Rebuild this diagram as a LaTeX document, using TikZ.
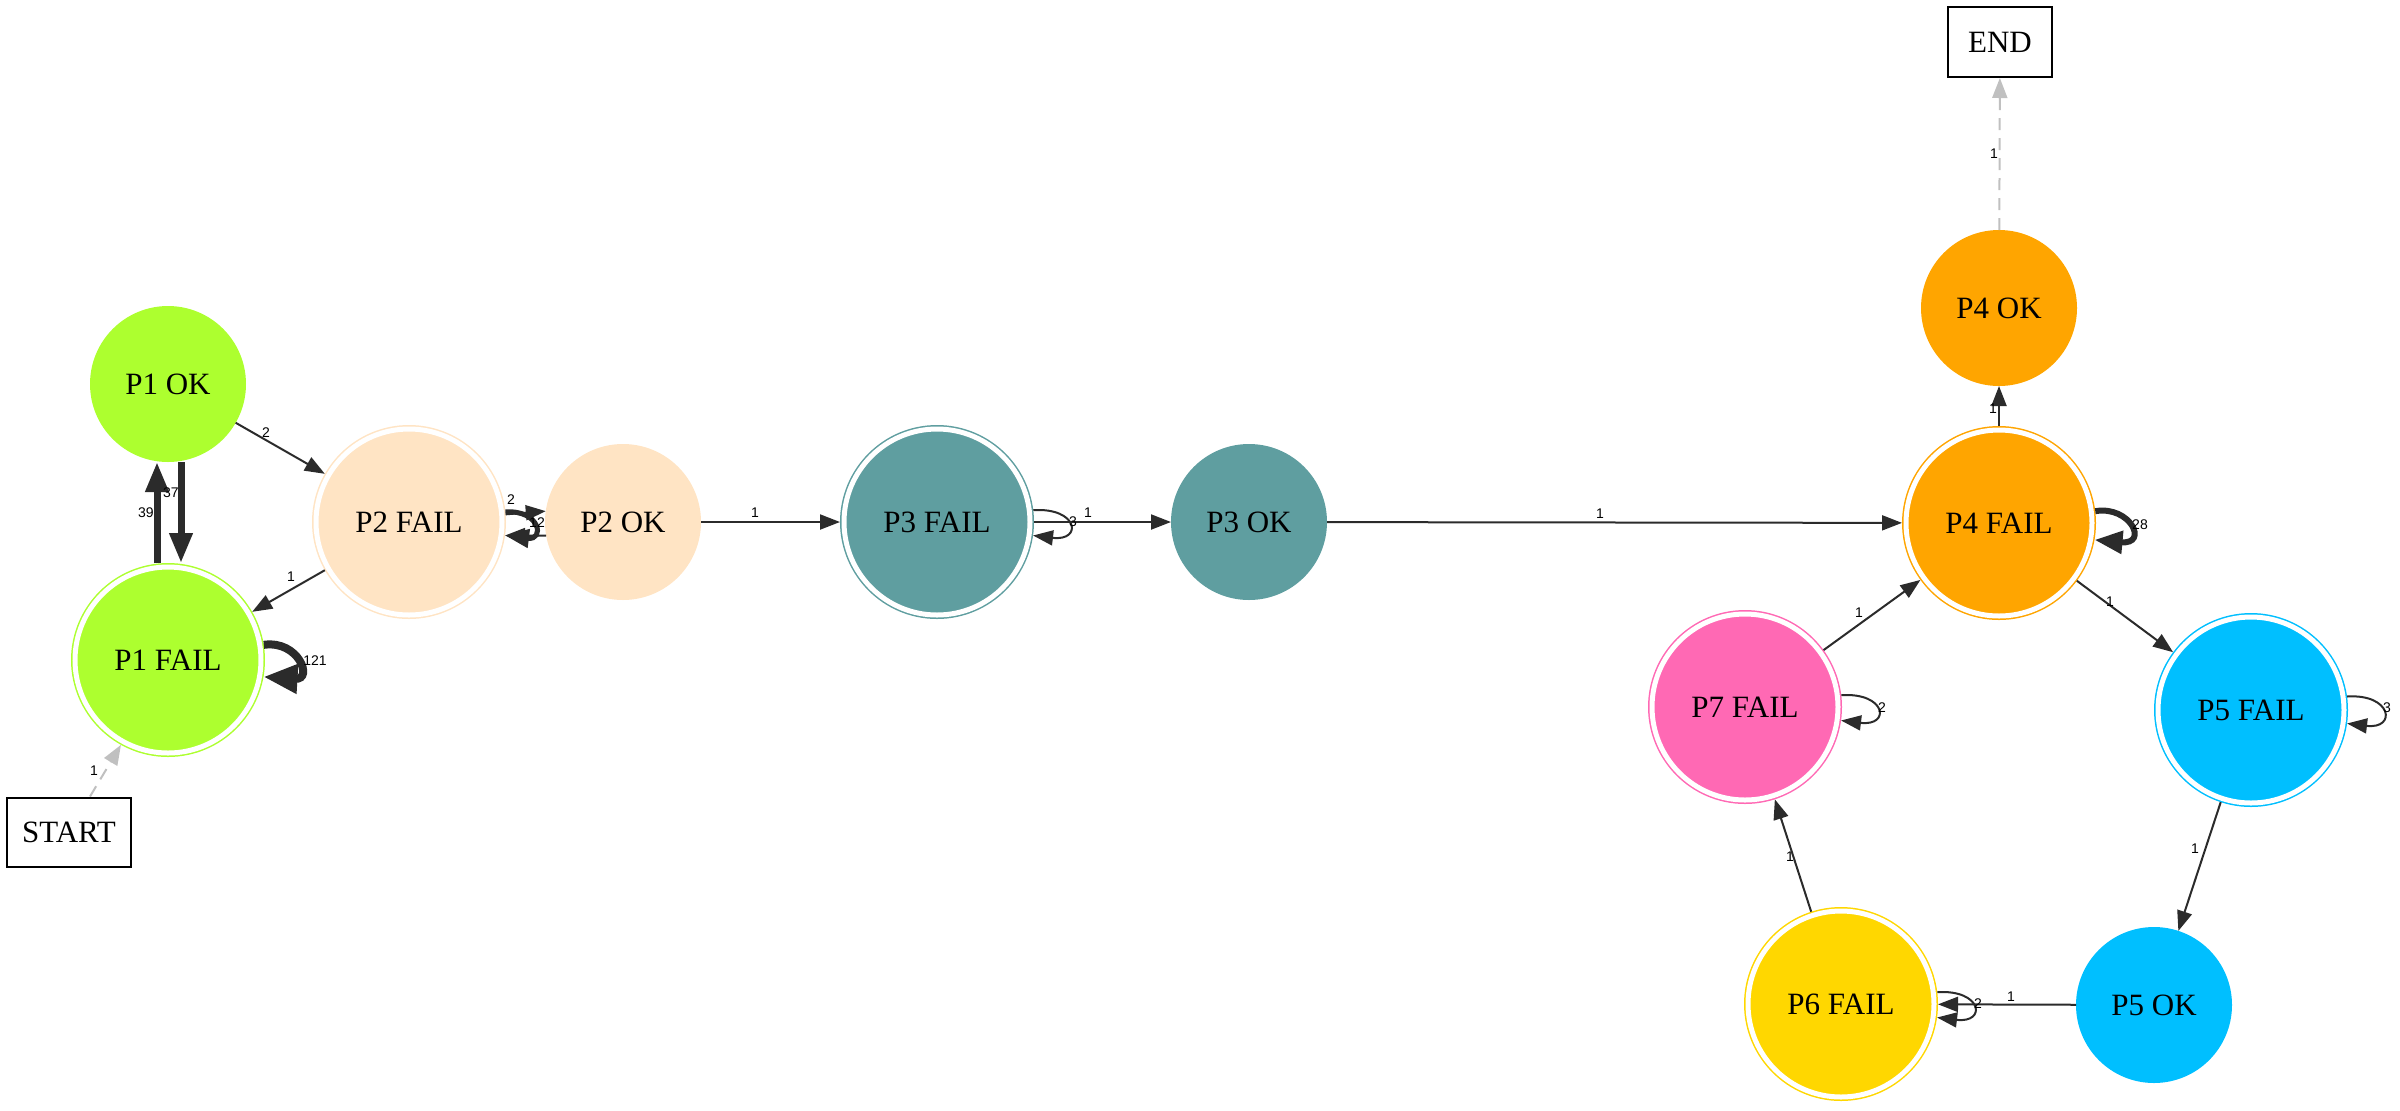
\documentclass[tikz,border=0pt]{standalone}
\usepackage{fontspec}
\setmainfont{Liberation Serif}
\newfontfamily\lblfont{Liberation Sans}
\usetikzlibrary{arrows.meta}

\definecolor{edgec}{HTML}{2B2B2B}
\definecolor{silverc}{HTML}{C0C0C0}
\definecolor{cgreen}{HTML}{ADFF2F}
\definecolor{cbisque}{HTML}{FFE4C4}
\definecolor{ccadet}{HTML}{5F9EA0}
\definecolor{corange}{HTML}{FFA500}
\definecolor{csky}{HTML}{00BFFF}
\definecolor{cgold}{HTML}{FFD700}
\definecolor{cpink}{HTML}{FF69B4}

\begin{document}
\begin{tikzpicture}[x=0.5pt,y=-0.5pt,
  stnode/.style={circle, inner sep=0pt, font=\fontsize{15.5}{18}\selectfont},
  okst/.style={stnode, minimum size=78pt, fill=#1, draw=none, outer sep=0pt},
  failst/.style={stnode, minimum size=93pt, fill=#1, draw=#1, line width=0.75pt,
                 double=white, double distance=2.5pt, outer sep=2pt},
  box/.style={rectangle, draw=black, line width=1pt, fill=white, inner sep=0pt,
              font=\fontsize{15.5}{18}\selectfont},
  tr/.style={draw=edgec, line width=1pt, -{Triangle[length=10pt,width=7.5pt]}},
  heavy/.style n args={3}{draw=edgec, line width=#1, -{Triangle[length=#2,width=#3]}},
  gr/.style={draw=silverc, line width=1pt, dash pattern=on 6pt off 4pt,
             -{Triangle[length=10pt,width=7.5pt]}},
  lbl/.style={font=\lblfont\fontsize{7}{8}\selectfont, inner sep=0pt, text=black}
]
\useasboundingbox (0,0) rectangle (2400,1110);

% states
\node[okst=cgreen]    (P1OK)   at (168,384)  {P1 OK};
\node[failst=cgreen]  (P1FAIL) at (168,660)  {P1 FAIL};
\node[box, minimum width=62pt, minimum height=34.5pt] (START) at (69,832) {START};
\node[failst=cbisque] (P2FAIL) at (409,522)  {P2 FAIL};
\node[okst=cbisque]   (P2OK)   at (623,522)  {P2 OK};
\node[failst=ccadet]  (P3FAIL) at (937,522)  {P3 FAIL};
\node[okst=ccadet]    (P3OK)   at (1249,522) {P3 OK};
\node[failst=corange] (P4FAIL) at (1999,523) {P4 FAIL};
\node[okst=corange]   (P4OK)   at (1999,308) {P4 OK};
\node[box, minimum width=52pt, minimum height=35pt] (END) at (2000,42) {END};
\node[failst=cpink]   (P7FAIL) at (1745,707) {P7 FAIL};
\node[failst=csky]    (P5FAIL) at (2251,710) {P5 FAIL};
\node[failst=cgold]   (P6FAIL) at (1841,1004) {P6 FAIL};
\node[okst=csky]      (P5OK)   at (2154,1005) {P5 OK};

% transitions
\draw[gr] ([xshift=10.5pt]START.north) -- (P1FAIL.241);
\draw[heavy={3.5pt}{15pt}{11pt}] ([xshift=6.5pt]P1OK.south) -- ([xshift=6.5pt]P1FAIL.north);
\draw[heavy={3.5pt}{15pt}{11pt}] ([xshift=-5.5pt]P1FAIL.north) -- ([xshift=-5.5pt]P1OK.south);
\draw[heavy={4pt}{17pt}{14pt}] (P1FAIL.9) .. controls +(35,-5) and +(50,3) .. (P1FAIL.-10);
\draw[tr] (P1OK) -- (P2FAIL);
\draw[tr] (P2FAIL) -- (P2OK.172);
\draw[tr] (P2FAIL) -- (P1FAIL);
\draw[tr] (P2OK.-170) -- (P2FAIL.-8);
\draw[heavy={2.5pt}{12pt}{9pt}] (P2FAIL.6) .. controls +(35,-2) and +(40,5) .. (P2FAIL.-8);
\draw[tr] (P2OK) -- (P3FAIL);
\draw[tr] (P3FAIL.7) .. controls +(45,-3) and +(50,6) .. (P3FAIL.-8);
\draw[tr] (P3FAIL) -- (P3OK);
\draw[tr] (P3OK) -- (P4FAIL);
\draw[tr] (P4FAIL) -- (P4OK);
\draw[gr] (P4OK) -- (END);
\draw[heavy={3pt}{14pt}{11pt}] (P4FAIL.7) .. controls +(35,-6) and +(55,5) .. (P4FAIL.-10);
\draw[tr] (P4FAIL) -- (P5FAIL);
\draw[tr] (P5FAIL.8) .. controls +(45,-3) and +(50,6) .. (P5FAIL.-8);
\draw[tr] (P5FAIL) -- (P5OK);
\draw[tr] (P5OK) -- (P6FAIL);
\draw[tr] (P6FAIL.7) .. controls +(45,-3) and +(50,6) .. (P6FAIL.-8);
\draw[tr] (P6FAIL) -- (P7FAIL);
\draw[tr] (P7FAIL.7) .. controls +(45,-3) and +(50,6) .. (P7FAIL.-8);
\draw[tr] (P7FAIL) -- (P4FAIL);

% transition counts
\node[lbl] (lStart) at (94,771)   {1};
\node[lbl] (l37)    at (171,493)  {37};
\node[lbl] (l39)    at (146,513)  {39};
\node[lbl] (l121)   at (315,661)  {121};
\node[lbl] (l12a)   at (266,433)  {2};
\node[lbl] (l21)    at (291,577)  {1};
\node[lbl] (l22)    at (511,500)  {2};
\node[lbl] (l2loop) at (537,523)  {12};
\node[lbl] (l23)    at (755,513)  {1};
\node[lbl] (l3loop) at (1073,522) {3};
\node[lbl] (l33)    at (1088,513) {1};
\node[lbl] (l34)    at (1600,514) {1};
\node[lbl] (l44)    at (1993,409) {1};
\node[lbl] (lEnd)   at (1994,154) {1};
\node[lbl] (l4loop) at (2140,525) {28};
\node[lbl] (l45)    at (2110,602) {1};
\node[lbl] (l5loop) at (2387,708) {3};
\node[lbl] (l55)    at (2195,849) {1};
\node[lbl] (l56)    at (2011,997) {1};
\node[lbl] (l6loop) at (1978,1004) {2};
\node[lbl] (l67)    at (1790,857) {1};
\node[lbl] (l7loop) at (1882,708) {2};
\node[lbl] (l74)    at (1859,613) {1};
\end{tikzpicture}
\end{document}
